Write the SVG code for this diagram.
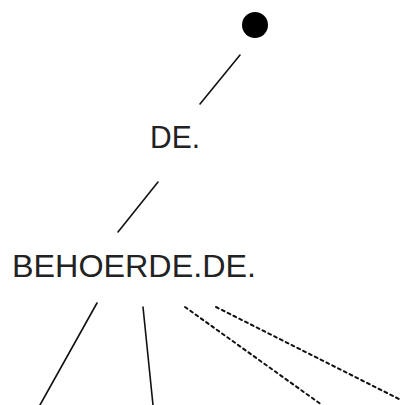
<svg xmlns="http://www.w3.org/2000/svg" width="401" height="405" viewBox="0 0 401 405">
<style>
.lbl{font-family:"Liberation Sans",Arial,sans-serif;font-size:31px;fill:#222}
.edge{stroke:#111;stroke-width:1.6;fill:none;stroke-linecap:round}
.dash{stroke-dasharray:3 3.5;stroke-width:2}
</style>
<rect width="401" height="405" fill="#fff"/>
<g id="connectors">
<line class="edge" x1="240" y1="55" x2="200" y2="104"/>
<line class="edge" x1="158" y1="182" x2="118" y2="232"/>
<line class="edge" x1="97" y1="303" x2="40" y2="405"/>
<line class="edge" x1="143" y1="307" x2="153" y2="405"/>
<line class="edge dash" x1="185" y1="307" x2="322" y2="405"/>
<line class="edge dash" x1="216" y1="307" x2="401" y2="400"/>
</g>
<g id="root"><circle cx="255" cy="25" r="13" fill="#000"/></g>
<g id="de"><text class="lbl" x="150" y="148" textLength="50" lengthAdjust="spacingAndGlyphs">DE.</text></g>
<g id="behoerde"><text class="lbl" x="12" y="277" textLength="244" lengthAdjust="spacingAndGlyphs">BEHOERDE.DE.</text></g>
</svg>
